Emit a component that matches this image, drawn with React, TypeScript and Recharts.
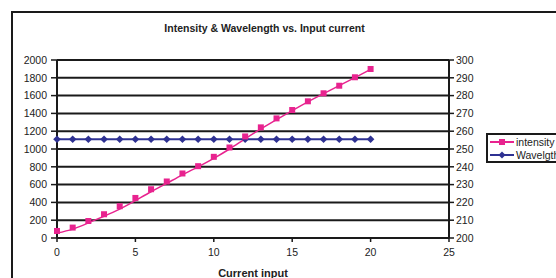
import React from 'react';
import { ComposedChart, Line, XAxis, YAxis, CartesianGrid } from 'recharts';

const currentInput = [0, 1, 2, 3, 4, 5, 6, 7, 8, 9, 10, 11, 12, 13, 14, 15, 16, 17, 18, 19, 20];
const intensity = [79, 117, 191, 267, 357, 450, 548, 635, 725, 807, 912, 1017, 1141, 1243, 1344, 1438, 1536, 1626, 1711, 1806, 1899];
const intensityTrend = [55, 100, 170, 245, 325, 420, 520, 615, 710, 800, 895, 1000, 1115, 1225, 1330, 1432, 1530, 1622, 1712, 1802, 1895];
const wavelength = [255.5, 255.5, 255.5, 255.5, 255.5, 255.5, 255.5, 255.5, 255.5, 255.5, 255.5, 255.5, 255.5, 255.5, 255.5, 255.5, 255.5, 255.5, 255.5, 255.5, 255.5];
const leftTicks = [0, 200, 400, 600, 800, 1000, 1200, 1400, 1600, 1800, 2000];
const rightTicks = [200, 210, 220, 230, 240, 250, 260, 270, 280, 290, 300];
const xTicks = [0, 5, 10, 15, 20, 25];

const PINK = '#e8238f';
const BLUE = '#2e3192';
const INK = '#1a1a1a';
const FONT = '"Liberation Sans", Arial, sans-serif';

const data = currentInput.map((x, i) => ({
  x,
  intensity: intensity[i],
  trend: intensityTrend[i],
  wavelength: wavelength[i],
}));

const SquareDot = (props: any) => {
  const { cx, cy, index } = props;
  if (cx == null || cy == null) return <g key={`s${index}`} />;
  return <rect key={`s${index}`} x={cx - 3} y={cy - 3} width={6} height={6} fill={PINK} />;
};

const DiamondDot = (props: any) => {
  const { cx, cy, index } = props;
  if (cx == null || cy == null) return <g key={`d${index}`} />;
  const r = 3.8;
  return (
    <path
      key={`d${index}`}
      d={`M${cx},${cy - r}L${cx + r},${cy}L${cx},${cy + r}L${cx - r},${cy}Z`}
      fill={BLUE}
    />
  );
};

const tickStyle = { fontSize: 10.5, fill: '#222', fontFamily: FONT };

export default function App() {
  return (
    <div
      style={{
        position: 'absolute',
        left: 0,
        top: 0,
        width: 556,
        height: 278,
        overflow: 'hidden',
        background: '#fff',
        fontFamily: FONT,
      }}
    >
      <div
        style={{
          position: 'absolute',
          left: 11,
          top: 11,
          width: 620,
          height: 320,
          border: `2px solid ${INK}`,
          boxSizing: 'border-box',
        }}
      />
      <div
        style={{
          position: 'absolute',
          left: 0,
          top: 21,
          width: 529,
          textAlign: 'center',
          fontSize: 10.5,
          fontWeight: 'bold',
          color: '#222',
          lineHeight: '14px',
        }}
      >
        Intensity &amp; Wavelength vs. Input current
      </div>
      <div style={{ position: 'absolute', left: 0, top: 0 }}>
        <ComposedChart
          width={556}
          height={278}
          data={data}
          margin={{ top: 60, right: 67, bottom: 0, left: 0 }}
        >
          <CartesianGrid
            yAxisId="left"
            vertical={false}
            stroke={INK}
            strokeWidth={2}
            horizontalValues={leftTicks}
          />
          <XAxis
            dataKey="x"
            type="number"
            domain={[0, 25]}
            ticks={xTicks}
            interval={0}
            height={40}
            tickSize={4}
            tickMargin={7}
            axisLine={{ stroke: INK, strokeWidth: 2 }}
            tickLine={{ stroke: INK, strokeWidth: 1.5 }}
            tick={tickStyle}
            label={{
              value: 'Current input',
              position: 'insideBottom',
              offset: 1,
              style: { fontSize: 11, fontWeight: 'bold', fill: '#222', fontFamily: FONT },
            }}
          />
          <YAxis
            yAxisId="left"
            domain={[0, 2000]}
            ticks={leftTicks}
            interval={0}
            width={57}
            tickSize={6}
            tickMargin={4}
            axisLine={{ stroke: INK, strokeWidth: 2 }}
            tickLine={{ stroke: INK, strokeWidth: 1.5 }}
            tick={tickStyle}
          />
          <YAxis
            yAxisId="right"
            orientation="right"
            domain={[200, 300]}
            ticks={rightTicks}
            interval={0}
            width={40}
            tickSize={5}
            tickMargin={2}
            axisLine={{ stroke: INK, strokeWidth: 2 }}
            tickLine={{ stroke: INK, strokeWidth: 1.5 }}
            tick={tickStyle}
          />
          <Line
            yAxisId="right"
            dataKey="wavelength"
            type="linear"
            stroke={BLUE}
            strokeWidth={2}
            dot={DiamondDot}
            activeDot={false}
            isAnimationActive={false}
          />
          <Line
            yAxisId="left"
            dataKey="trend"
            type="natural"
            stroke={PINK}
            strokeWidth={1.5}
            dot={false}
            activeDot={false}
            isAnimationActive={false}
          />
          <Line
            yAxisId="left"
            dataKey="intensity"
            type="linear"
            stroke="none"
            strokeOpacity={0}
            dot={SquareDot}
            activeDot={false}
            isAnimationActive={false}
          />
        </ComposedChart>
      </div>
      <div
        style={{
          position: 'absolute',
          left: 486,
          top: 133,
          width: 120,
          height: 30,
          border: `2px solid ${INK}`,
          boxSizing: 'border-box',
          background: '#fff',
        }}
      >
        <svg width={30} height={28} style={{ position: 'absolute', left: 0, top: 0 }}>
          <line x1={2} y1={7} x2={26} y2={7} stroke={PINK} strokeWidth={2} />
          <rect x={11} y={4} width={6} height={6} fill={PINK} />
          <line x1={2} y1={20} x2={26} y2={20} stroke={BLUE} strokeWidth={2} />
          <path d="M14,16.5L17.5,20L14,23.5L10.5,20Z" fill={BLUE} />
        </svg>
        <div style={{ position: 'absolute', left: 28, top: 0, fontSize: 10.5, lineHeight: '14px', color: '#222', whiteSpace: 'nowrap' }}>
          intensity
        </div>
        <div style={{ position: 'absolute', left: 28, top: 13, fontSize: 10.5, lineHeight: '14px', color: '#222', whiteSpace: 'nowrap' }}>
          Wavelgth
        </div>
      </div>
    </div>
  );
}
